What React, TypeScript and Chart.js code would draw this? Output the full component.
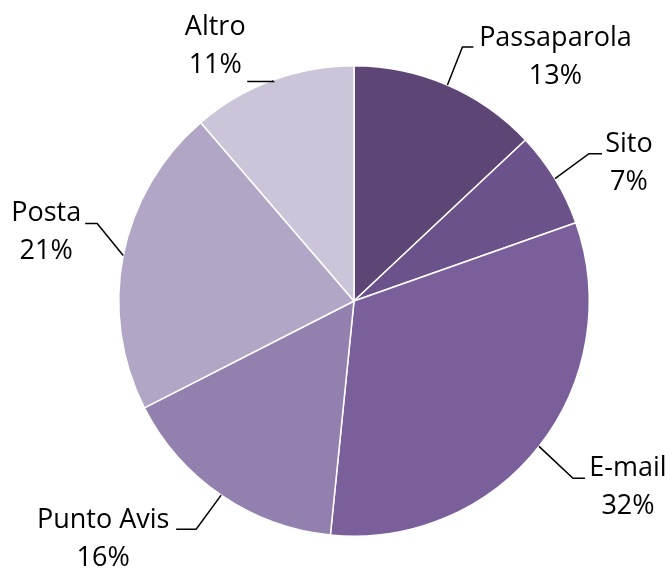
import React, { useEffect, useRef } from "react";
import { Chart, registerables } from "chart.js";

Chart.register(...registerables);

const categories = ["Passaparola", "Sito", "E-mail", "Punto Avis", "Posta", "Altro"];
const shares = [13, 6.6, 32, 15.9, 21.2, 11.3];
const sliceColors = ["#5D4675", "#6B528A", "#7B5F9B", "#9280AF", "#B1A6C5", "#CCC4D8"];

// leader layout: elbow offset from the arc edge, horizontal run, text offset from run end
const labelLayout = [
  { elbow: [15, -38], run: 11, text: [82, -9] },
  { elbow: [34, -25], run: 13, text: [27, -9] },
  { elbow: [34, 32], run: 12, text: [43, -10] },
  { elbow: [-25, 34], run: -20, text: [-73, -9] },
  { elbow: [-26, -32], run: -12, text: [-39, -10] },
  { elbow: [1, 1], run: -26, text: [-32, -54] },
];

const FONT = '27px "Open Sans", sans-serif';
const LINE_GAP = 38;

const labelPlugin = {
  id: "leaderLabels",
  afterDatasetsDraw(chart: any) {
    const ctx = chart.ctx as CanvasRenderingContext2D;
    const meta = chart.getDatasetMeta(0);
    const data = chart.data.datasets[0].data as number[];
    const total = data.reduce((a, b) => a + b, 0);
    ctx.save();
    ctx.font = FONT;
    ctx.fillStyle = "#000";
    ctx.strokeStyle = "#000";
    ctx.lineWidth = 1.5;
    ctx.textAlign = "center";
    ctx.textBaseline = "middle";
    meta.data.forEach((arc: any, i: number) => {
      const p = arc.getProps(["x", "y", "startAngle", "endAngle", "outerRadius"], true);
      const mid = (p.startAngle + p.endAngle) / 2;
      const ex = p.x + Math.cos(mid) * p.outerRadius;
      const ey = p.y + Math.sin(mid) * p.outerRadius;
      const L = labelLayout[i];
      const bx = ex + L.elbow[0];
      const by = ey + L.elbow[1];
      const hx = bx + L.run;
      ctx.beginPath();
      ctx.moveTo(ex, ey);
      ctx.lineTo(bx, by);
      ctx.lineTo(hx, by);
      ctx.stroke();
      const tx = hx + L.text[0];
      const ty = by + L.text[1];
      const pct = Math.round((data[i] / total) * 100) + "%";
      ctx.fillText(String(chart.data.labels[i]), tx, ty);
      ctx.fillText(pct, tx, ty + LINE_GAP);
    });
    ctx.restore();
  },
};

export default function App() {
  const ref = useRef<HTMLCanvasElement | null>(null);
  useEffect(() => {
    if (!ref.current) return;
    const chart = new Chart(ref.current, {
      type: "pie",
      data: {
        labels: categories,
        datasets: [
          {
            data: shares,
            backgroundColor: sliceColors,
            borderColor: "#ffffff",
            borderWidth: 1.5,
          },
        ],
      },
      options: {
        responsive: false,
        animation: false,
        layout: { padding: { left: 118, right: 82, top: 65, bottom: 33 } },
        plugins: {
          legend: { display: false },
          tooltip: { enabled: false },
        },
      },
      plugins: [labelPlugin],
    });
    return () => chart.destroy();
  }, []);
  return (
    <div style={{ position: "fixed", left: 0, top: 0, width: 672, height: 570, background: "#fff" }}>
      <canvas ref={ref} width={672} height={570} />
    </div>
  );
}
